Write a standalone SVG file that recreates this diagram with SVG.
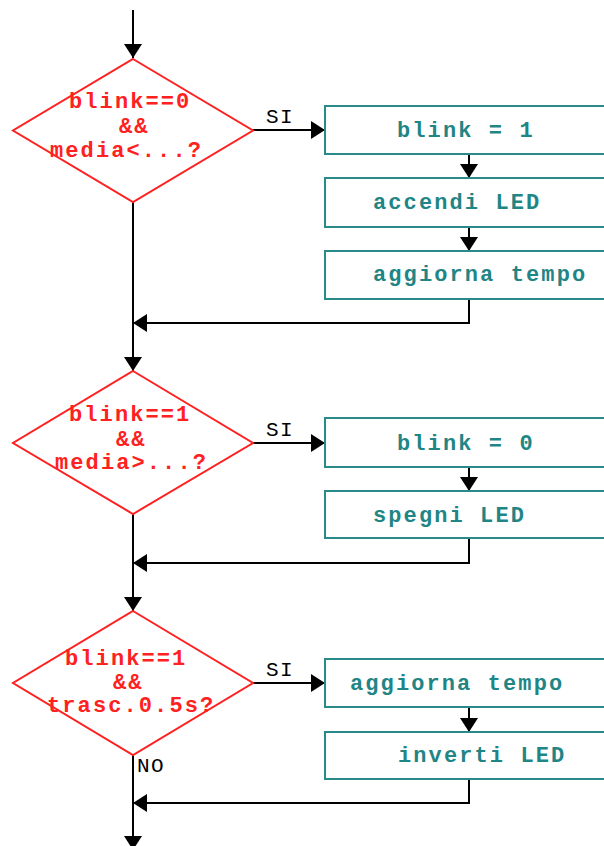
<svg xmlns="http://www.w3.org/2000/svg" width="604" height="846" viewBox="0 0 604 846">
<style>
.dia{fill:#fff;stroke:#ff2020;stroke-width:2}
.box{fill:#fff;stroke:#2a8a8a;stroke-width:2}
.ct{font-family:"Liberation Mono","DejaVu Sans Mono",monospace;font-weight:bold;font-size:22px;letter-spacing:2.1px;fill:#ff2020}
.bt{font-family:"Liberation Mono","DejaVu Sans Mono",monospace;font-weight:bold;font-size:22px;letter-spacing:2.1px;fill:#1f8585}
.lb{font-family:"Liberation Mono","DejaVu Sans Mono",monospace;font-size:21px;letter-spacing:1.5px;fill:#000}
.cn{fill:none;stroke:#000;stroke-width:2}
</style>
<defs>
<marker id="ah" markerUnits="userSpaceOnUse" viewBox="0 0 14 18" refX="14" refY="9" markerWidth="14" markerHeight="18" orient="auto">
<path d="M0,0 L14,9 L0,18 z" fill="#000"/>
</marker>
</defs>
<rect width="604" height="846" fill="#fff"/>
<g id="connectors">
<line class="cn" x1="133" y1="10" x2="133" y2="58" marker-end="url(#ah)"/>
<line class="cn" x1="253" y1="130" x2="325" y2="130" marker-end="url(#ah)"/>
<line class="cn" x1="469" y1="154" x2="469" y2="178" marker-end="url(#ah)"/>
<line class="cn" x1="469" y1="227" x2="469" y2="251" marker-end="url(#ah)"/>
<polyline class="cn" points="469,299 469,323 133,323" marker-end="url(#ah)"/>
<line class="cn" x1="133" y1="202" x2="133" y2="371" marker-end="url(#ah)"/>
<line class="cn" x1="253" y1="443" x2="325" y2="443" marker-end="url(#ah)"/>
<line class="cn" x1="469" y1="467" x2="469" y2="491" marker-end="url(#ah)"/>
<polyline class="cn" points="469,538 469,563 133,563" marker-end="url(#ah)"/>
<line class="cn" x1="133" y1="514" x2="133" y2="611" marker-end="url(#ah)"/>
<line class="cn" x1="253" y1="683" x2="325" y2="683" marker-end="url(#ah)"/>
<line class="cn" x1="469" y1="707" x2="469" y2="732" marker-end="url(#ah)"/>
<polyline class="cn" points="469,779 469,803 133,803" marker-end="url(#ah)"/>
<line class="cn" x1="133" y1="755" x2="133" y2="850" marker-end="url(#ah)"/>
<text class="lb" x="266" y="123">SI</text>
<text class="lb" x="266" y="436">SI</text>
<text class="lb" x="266" y="676">SI</text>
<text class="lb" x="137" y="772">NO</text>
</g>
<g id="d1">
<polygon class="dia" points="133,59 253,130.5 133,202 13,130.5"/>
<text class="ct" x="69" y="108">blink==0</text>
<text class="ct" x="119" y="133">&amp;&amp;</text>
<text class="ct" x="50" y="157">media&lt;...?</text>
</g>
<g id="b1"><rect class="box" x="325" y="106" width="300" height="48"/><text class="bt" x="397" y="137">blink = 1</text></g>
<g id="b2"><rect class="box" x="325" y="178" width="300" height="49"/><text class="bt" x="373" y="209">accendi LED</text></g>
<g id="b3"><rect class="box" x="325" y="251" width="300" height="48"/><text class="bt" x="373" y="281">aggiorna tempo</text></g>
<g id="d2">
<polygon class="dia" points="133,371 253,443 133,514 13,443"/>
<text class="ct" x="69" y="421">blink==1</text>
<text class="ct" x="116" y="446">&amp;&amp;</text>
<text class="ct" x="55" y="469">media&gt;...?</text>
</g>
<g id="b4"><rect class="box" x="325" y="418" width="300" height="49"/><text class="bt" x="397" y="450">blink = 0</text></g>
<g id="b5"><rect class="box" x="325" y="491" width="300" height="47"/><text class="bt" x="373" y="522">spegni LED</text></g>
<g id="d3">
<polygon class="dia" points="133,611 253,683 133,755 13,683"/>
<text class="ct" x="65" y="665">blink==1</text>
<text class="ct" x="113" y="689">&amp;&amp;</text>
<text class="ct" x="47" y="712">trasc.0.5s?</text>
</g>
<g id="b6"><rect class="box" x="325" y="659" width="300" height="48"/><text class="bt" x="350" y="690">aggiorna tempo</text></g>
<g id="b7"><rect class="box" x="325" y="732" width="300" height="47"/><text class="bt" x="398" y="762">inverti LED</text></g>
</svg>
